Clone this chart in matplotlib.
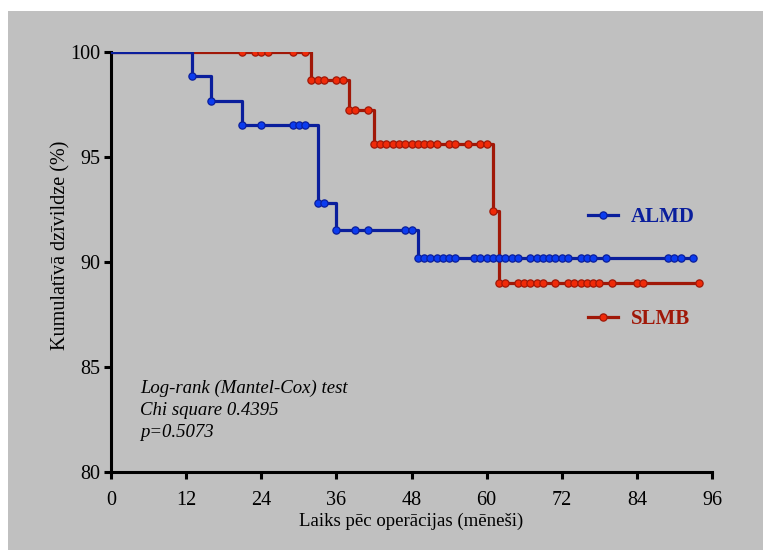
import numpy as np
import matplotlib
matplotlib.use('Agg')
import matplotlib.pyplot as plt
import matplotlib.lines as mlines
from matplotlib.patches import Rectangle

# ALMD - soli (notikumi) un cenzētie punkti
almd_t = [0, 13, 16, 21, 33, 36, 49, 93]
almd_s = [100, 98.84, 97.67, 96.51, 92.80, 91.52, 90.17, 90.17]
almd_cens = [13, 16, 21, 24, 29, 30, 31, 33, 34, 36, 39, 41, 47, 48,
             49, 50, 51, 52, 53, 54, 55, 58, 59, 60, 61, 62, 63, 64, 65,
             67, 68, 69, 70, 71, 72, 73, 75, 76, 77, 79, 89, 90, 91, 93]

# SLMB
slmb_t = [0, 32, 38, 42, 61, 62, 94]
slmb_s = [100, 98.67, 97.20, 95.60, 92.40, 89.00, 89.00]
slmb_cens = [21, 23, 24, 25, 29, 31, 32, 33, 34, 36, 37, 38, 39, 41,
             42, 43, 44, 45, 46, 47, 48, 49, 50, 51, 52, 54, 55, 57, 59,
             60, 61, 62, 63, 65, 66, 67, 68, 69, 71, 73, 74, 75, 76, 77,
             78, 80, 84, 85, 94]

xticks = [0, 12, 24, 36, 48, 60, 72, 84, 96]
yticks = [80, 85, 90, 95, 100]
stat_txt = 'Log-rank (Mantel-Cox) test\nChi square 0.4395\np=0.5073'


def level_at(times, surv, pts):
    idx = np.searchsorted(times, pts, side='right') - 1
    return np.array(surv)[idx]


plt.rcParams['font.family'] = ['Liberation Serif', 'DejaVu Serif']

fig = plt.figure(figsize=(7.63, 5.5), dpi=100)
fig.patch.set_facecolor('white')
fig.add_artist(Rectangle((8 / 763, 0), 1, 539 / 550, transform=fig.transFigure,
                         facecolor='#c0c0c0', edgecolor='none', zorder=0))
ax = fig.add_axes([111 / 763, 78.3 / 550, 601 / 763, 420 / 550])
ax.patch.set_visible(False)

blue_line = '#0a1e9c'
blue_dot = '#0b3cf0'
red_line = '#a01808'
red_dot = '#f02a08'

ax.step(slmb_t, slmb_s, where='post', color=red_line, lw=2.3, zorder=3)
ax.plot(slmb_cens, level_at(slmb_t, slmb_s, slmb_cens), 'o', ms=5.2,
        mfc=red_dot, mec=red_line, mew=0.9, zorder=4)
ax.step(almd_t, almd_s, where='post', color=blue_line, lw=2.3, zorder=5)
ax.plot(almd_cens, level_at(almd_t, almd_s, almd_cens), 'o', ms=5.2,
        mfc=blue_dot, mec=blue_line, mew=0.9, zorder=6)

# legendas marķieri ar līniju
h1 = mlines.Line2D([], [], color=blue_line, lw=2.3, marker='o', ms=5.2,
                   mfc=blue_dot, mec=blue_line, mew=0.9)
h2 = mlines.Line2D([], [], color=red_line, lw=2.3, marker='o', ms=5.2,
                   mfc=red_dot, mec=red_line, mew=0.9)
leg = ax.legend([h1, h2], ['ALMD', 'SLMB'], loc='center left',
                bbox_to_anchor=(0.794, 0.485), frameon=False, numpoints=1,
                handlelength=1.45, handletextpad=0.6, labelspacing=3.95,
                borderpad=0, borderaxespad=0,
                prop={'family': 'Liberation Serif', 'weight': 'bold', 'size': 15})
leg.get_texts()[0].set_color('#0a1e9c')
leg.get_texts()[1].set_color('#a01808')

ax.text(0.048, 0.218, stat_txt, transform=ax.transAxes, va='top', ha='left',
        fontsize=13.5, style='italic', linespacing=1.36)

ax.set_xlim(0, 96)
ax.set_ylim(80, 100)
ax.set_xticks(xticks)
ax.set_yticks(yticks)
for s in ['top', 'right']:
    ax.spines[s].set_visible(False)
for s in ['left', 'bottom']:
    ax.spines[s].set_linewidth(2.2)
ax.tick_params(direction='out', length=5, width=2.2, labelsize=14.5, pad=3)
ax.tick_params(axis='x', pad=9)
ax.set_xlabel('Laiks pēc operācijas (mēneši)', fontsize=13.5, labelpad=2)
ax.set_ylabel('Kumulatīvā dzīvildze (%)', fontsize=14.5)
ax.yaxis.set_label_coords(-0.067, 0.54)

fig.savefig('out.png', dpi=100, facecolor=fig.get_facecolor())
